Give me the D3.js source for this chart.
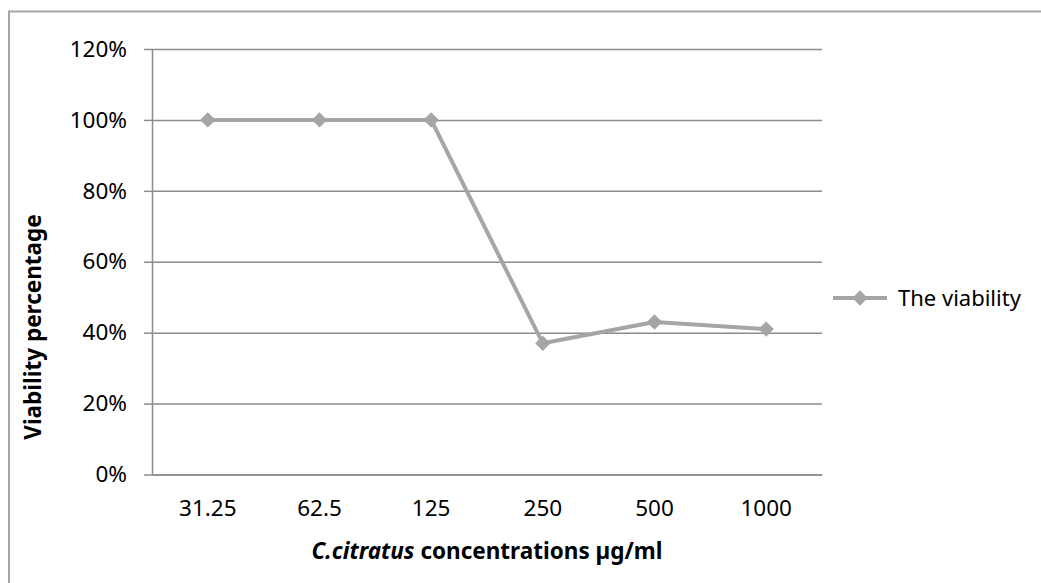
<!DOCTYPE html>
<html>
<head>
<meta charset="utf-8">
<script src="https://cdn.jsdelivr.net/npm/d3@7"></script>
<style>
  body { margin: 0; background: #fff; }
  svg { display: block; font-family: "Noto Sans", "Open Sans", sans-serif; }
</style>
</head>
<body>
<div id="chart"></div>
<script>
// Data
const concentrations = ['31.25', '62.5', '125', '250', '500', '1000'];
const viability = [1.00, 1.00, 1.00, 0.37, 0.43, 0.41];
const yTicks = [0, 0.2, 0.4, 0.6, 0.8, 1.0, 1.2];
const seriesName = 'The viability';

const width = 1041, height = 583;
const plot = { left: 152, right: 822, top: 49, bottom: 474.5 };
const lineColor = '#a5a5a5';
const gridColor = '#8c8c8c';

const svg = d3.select('#chart')
    .append('svg')
    .attr('width', width)
    .attr('height', height);

// Chart area border (cut off on right/bottom like the reference)
svg.append('rect')
    .attr('x', 9)
    .attr('y', 11.5)
    .attr('width', width + 20)
    .attr('height', height + 40)
    .attr('fill', '#fff')
    .attr('stroke', '#a6a6a6')
    .attr('stroke-width', 2);

const x = d3.scaleBand()
    .domain(concentrations)
    .range([plot.left, plot.right])
    .padding(0);

const y = d3.scaleLinear()
    .domain([0, 1.2])
    .range([plot.bottom, plot.top]);

// Gridlines
svg.append('g')
    .attr('transform', `translate(${plot.left},0)`)
    .call(d3.axisLeft(y)
        .tickValues(yTicks)
        .tickSize(-(plot.right - plot.left))
        .tickFormat(''))
    .call(g => g.select('.domain').remove())
    .call(g => g.selectAll('line')
        .attr('stroke', gridColor)
        .attr('stroke-width', 1.5));

// Y axis
svg.append('g')
    .attr('transform', `translate(${plot.left},0)`)
    .call(d3.axisLeft(y)
        .tickValues(yTicks)
        .tickSize(8)
        .tickSizeOuter(0)
        .tickPadding(17)
        .tickFormat(d3.format('.0%')))
    .call(g => g.select('.domain')
        .attr('stroke', gridColor)
        .attr('stroke-width', 1.5))
    .call(g => g.selectAll('line')
        .attr('stroke', gridColor)
        .attr('stroke-width', 1.5))
    .call(g => g.selectAll('text')
        .attr('font-size', 22.5)
        .attr('font-family', '"Noto Sans", sans-serif')
        .attr('fill', '#000'));

// X axis (labels only, no tick marks)
svg.append('g')
    .attr('transform', `translate(0,${plot.bottom})`)
    .call(d3.axisBottom(x).tickSize(0).tickPadding(26))
    .call(g => g.select('.domain')
        .attr('stroke', gridColor)
        .attr('stroke-width', 1.5))
    .call(g => g.selectAll('text')
        .attr('font-size', 22.5)
        .attr('font-family', '"Noto Sans", sans-serif')
        .attr('fill', '#000'));

// Series line
const pts = concentrations.map((c, i) => ({ c, v: viability[i] }));
const line = d3.line()
    .x(d => x(d.c) + x.bandwidth() / 2)
    .y(d => y(d.v));

svg.append('path')
    .datum(pts)
    .attr('fill', 'none')
    .attr('stroke', lineColor)
    .attr('stroke-width', 4)
    .attr('stroke-linejoin', 'round')
    .attr('d', line);

const diamond = d3.symbol().type(d3.symbolDiamond2).size(150);
svg.selectAll('.dot')
    .data(pts)
    .join('path')
    .attr('class', 'dot')
    .attr('transform', d => `translate(${x(d.c) + x.bandwidth() / 2},${y(d.v)})`)
    .attr('d', diamond)
    .attr('fill', lineColor);

// Axis titles
svg.append('text')
    .attr('x', (plot.left + plot.right) / 2)
    .attr('y', 559)
    .attr('text-anchor', 'middle')
    .attr('font-size', 22.5)
    .attr('font-weight', 'bold')
    .attr('fill', '#000')
    .call(t => t.append('tspan').attr('font-style', 'italic').text('C.citratus'))
    .call(t => t.append('tspan').text(' concentrations µg/ml'));

svg.append('text')
    .attr('transform', 'translate(41,327) rotate(-90)')
    .attr('text-anchor', 'middle')
    .attr('font-size', 22.5)
    .attr('font-weight', 'bold')
    .attr('fill', '#000')
    .text('Viability percentage');

// Legend
const legend = svg.append('g').attr('transform', 'translate(833,298)');
legend.append('line')
    .attr('x1', 0).attr('x2', 54)
    .attr('stroke', lineColor)
    .attr('stroke-width', 4);
legend.append('path')
    .attr('transform', 'translate(27,0)')
    .attr('d', diamond)
    .attr('fill', lineColor);
legend.append('text')
    .attr('x', 65)
    .attr('dy', '0.35em')
    .attr('font-size', 22)
    .attr('fill', '#000')
    .text(seriesName);
</script>
</body>
</html>
